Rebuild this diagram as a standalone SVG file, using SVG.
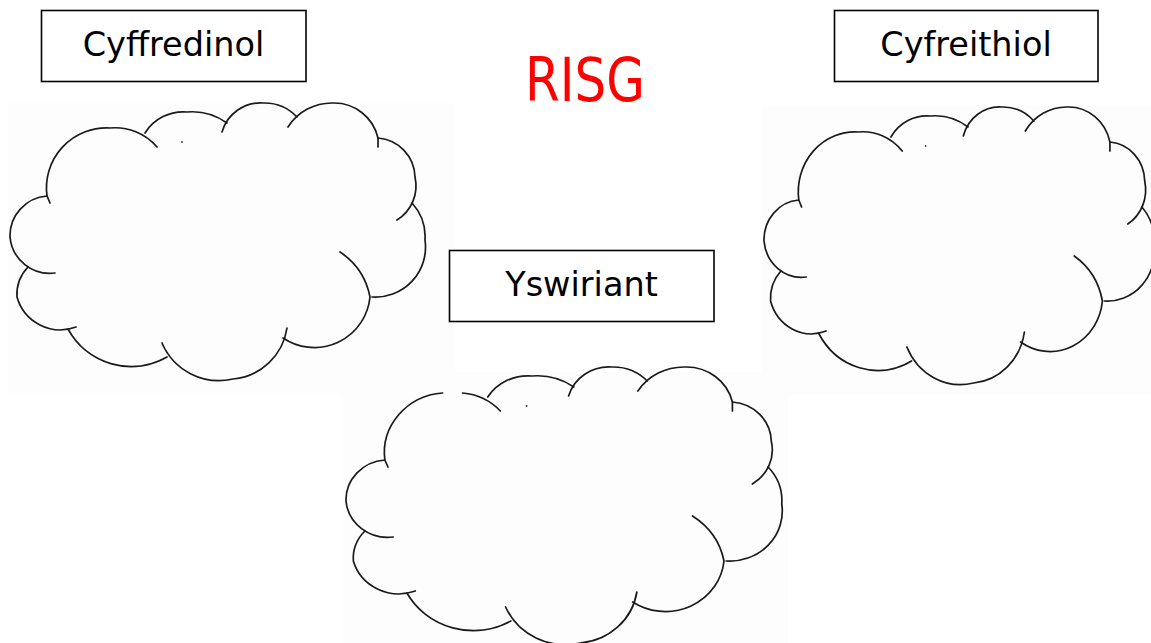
<svg xmlns="http://www.w3.org/2000/svg" xmlns:xlink="http://www.w3.org/1999/xlink" width="1151" height="643" viewBox="0 0 1151 643">
  <style>
    .bg { fill: #fdfdfd; stroke: none; }
    .cl { fill: none; stroke: #1a1a1a; stroke-width: 1.7; stroke-linecap: round; stroke-linejoin: round; vector-effect: non-scaling-stroke; }
    .dot { fill: #333; }
    .box { fill: #ffffff; stroke: #000; stroke-width: 1.6; }
    .lbl { font-family: "DejaVu Sans", Verdana, sans-serif; font-size: 33.5px; fill: #000; text-anchor: middle; }
    .title { font-family: "DejaVu Sans", Verdana, sans-serif; font-size: 61px; fill: #ff0000; text-anchor: middle; }
  </style>
  <defs>
    <g id="cloudBase">
      <path class="cl" vector-effect="non-scaling-stroke" d="M55,273 A40,40 0 0 1 10,237 A40,40 0 0 1 47,196"/>
      <path class="cl" vector-effect="non-scaling-stroke" d="M145,133 A45,45 0 0 1 187,112 A60,60 0 0 1 227,123"/>
      <path class="cl" vector-effect="non-scaling-stroke" d="M222,132 A40,40 0 0 1 263,103 A45,45 0 0 1 297,117"/>
      <path class="cl" vector-effect="non-scaling-stroke" d="M288,127 A52,52 0 0 1 333,103 A45,45 0 0 1 378,138 L378,147"/>
      <path class="cl" vector-effect="non-scaling-stroke" d="M378,138 A40,40 0 0 1 415,177 A40,40 0 0 1 397,220"/>
      <path class="cl" vector-effect="non-scaling-stroke" d="M412,203 A50,50 0 0 1 425,240 A50,50 0 0 1 372,297"/>
      <path class="cl" vector-effect="non-scaling-stroke" d="M340,252 A70,70 0 0 1 370,297 A56,56 0 0 1 283,338"/>
      <path class="cl" vector-effect="non-scaling-stroke" d="M287,328 A60,60 0 0 1 233,379 A62,62 0 0 1 162,343"/>
      <path class="cl" vector-effect="non-scaling-stroke" d="M167,357 A72,72 0 0 1 68,329"/>
      <path class="cl" vector-effect="non-scaling-stroke" d="M76,327 A45,45 0 0 1 17,297 A40,40 0 0 1 28,267"/>
      <circle class="dot" cx="182" cy="142" r="0.9"/>
    </g>
    <path id="tlFull" class="cl" vector-effect="non-scaling-stroke" d="M50,203 L47,196 A60,60 0 0 1 110,128 A55,55 0 0 1 157,147"/>
    <g id="tlGap">
      <path class="cl" vector-effect="non-scaling-stroke" d="M50,203 L47,196 A60,60 0 0 1 102,129"/>
      <path class="cl" vector-effect="non-scaling-stroke" d="M121,129 A55,55 0 0 1 157,147"/>
    </g>
  </defs>

  <rect class="bg" x="8" y="103" width="447" height="290"/>
  <rect class="bg" x="762" y="105" width="389" height="290"/>
  <rect class="bg" x="343" y="372" width="445" height="271"/>

  <g id="cloud-cyffredinol">
    <use xlink:href="#cloudBase" href="#cloudBase"/>
    <use xlink:href="#tlFull" href="#tlFull"/>
  </g>
  <g id="cloud-cyfreithiol" transform="matrix(0.94 0 0 1 754.6 4)">
    <use xlink:href="#cloudBase" href="#cloudBase"/>
    <use xlink:href="#tlFull" href="#tlFull"/>
  </g>
  <g id="cloud-yswiriant" transform="matrix(1.05 0 0 1 335.5 264)">
    <use xlink:href="#cloudBase" href="#cloudBase"/>
    <use xlink:href="#tlGap" href="#tlGap"/>
  </g>

  <g id="node-cyffredinol">
    <rect class="box" x="41.5" y="10.5" width="264.5" height="71"/>
    <text class="lbl" x="173.5" y="56">Cyffredinol</text>
  </g>
  <g id="node-cyfreithiol">
    <rect class="box" x="834.5" y="10.5" width="263.5" height="71"/>
    <text class="lbl" x="966" y="56">Cyfreithiol</text>
  </g>
  <g id="node-yswiriant">
    <rect class="box" x="449.5" y="250.5" width="264.5" height="71"/>
    <text class="lbl" x="581.5" y="296">Yswiriant</text>
  </g>
  <g id="title">
    <text class="title" x="585" y="101" textLength="120" lengthAdjust="spacingAndGlyphs">RISG</text>
  </g>
  <g id="connectors"></g>
</svg>
